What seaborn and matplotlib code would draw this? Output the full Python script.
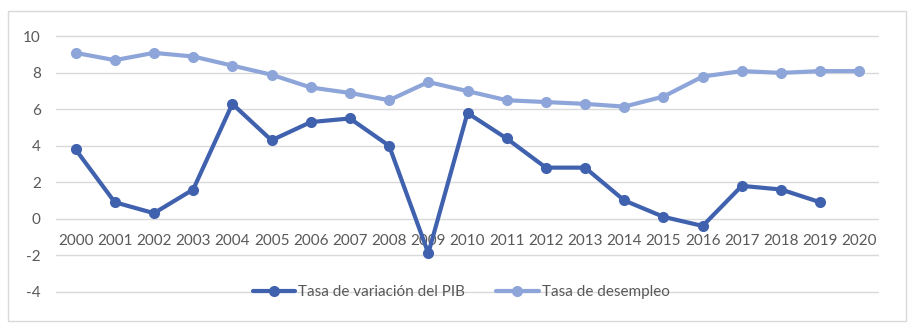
import matplotlib
matplotlib.use("Agg")
import matplotlib.pyplot as plt
import seaborn as sns
import pandas as pd
import numpy as np

years = [str(y) for y in range(2000, 2021)]
pib = [3.8, 0.9, 0.3, 1.6, 6.3, 4.3, 5.3, 5.5, 4.0, -1.9, 5.8, 4.4, 2.8, 2.8, 1.0, 0.1, -0.4, 1.8, 1.6, 0.9, np.nan]
desempleo = [9.1, 8.7, 9.1, 8.9, 8.4, 7.9, 7.2, 6.9, 6.5, 7.5, 7.0, 6.5, 6.4, 6.3, 6.15, 6.7, 7.8, 8.1, 8.0, 8.1, 8.1]
series_names = ["Tasa de variación del PIB", "Tasa de desempleo"]
colors = ["#3F61AE", "#8EA5D9"]
y_ticks = [-4, -2, 0, 2, 4, 6, 8, 10]

sns.set_theme(style="white")
plt.rcParams["font.family"] = ["Lato", "DejaVu Sans"]

df = pd.DataFrame({"Año": years * 2,
                   "Valor": pib + desempleo,
                   "Serie": [series_names[0]] * len(years) + [series_names[1]] * len(years)})

fig = plt.figure(figsize=(9.13, 3.25), dpi=100)
ax = fig.add_axes([56/913, 1 - 297/325, (879-56)/913, (297-31)/325])

sns.lineplot(data=df, x="Año", y="Valor", hue="Serie", palette=colors,
             marker="o", markersize=8, linewidth=3.0, markeredgewidth=0,
             sort=False, ax=ax)

ax.set_xlim(-0.5, len(years) - 0.5)
ax.set_ylim(-4.3, 10.3)
ax.set_yticks(y_ticks)
ax.set_yticklabels([str(t) for t in y_ticks])
for t in y_ticks:
    ax.axhline(t, color="#D9D9D9", linewidth=1, zorder=0)

ax.spines["bottom"].set_position(("data", 0))
for s in ax.spines.values():
    s.set_visible(False)
ax.tick_params(axis="x", length=0, pad=11, labelsize=11, labelcolor="#595959")
ax.tick_params(axis="y", length=0, pad=11, labelsize=11, labelcolor="#595959")
ax.set_xlabel("")
ax.set_ylabel("")

handles, labels = ax.get_legend_handles_labels()
ax.legend(handles, labels, loc="center", bbox_to_anchor=(461/913, 1 - 292/325),
          bbox_transform=fig.transFigure, ncol=2, frameon=False, fontsize=11,
          labelcolor="#595959", handlelength=2.8, columnspacing=2.0, handletextpad=0.2)

border = plt.Rectangle((8/913, 1 - 321/325), (906-8)/913, (321-11)/325,
                       transform=fig.transFigure, fill=False, edgecolor="#D9D9D9", linewidth=1)
fig.patches.append(border)

fig.savefig("out.png", dpi=100)
